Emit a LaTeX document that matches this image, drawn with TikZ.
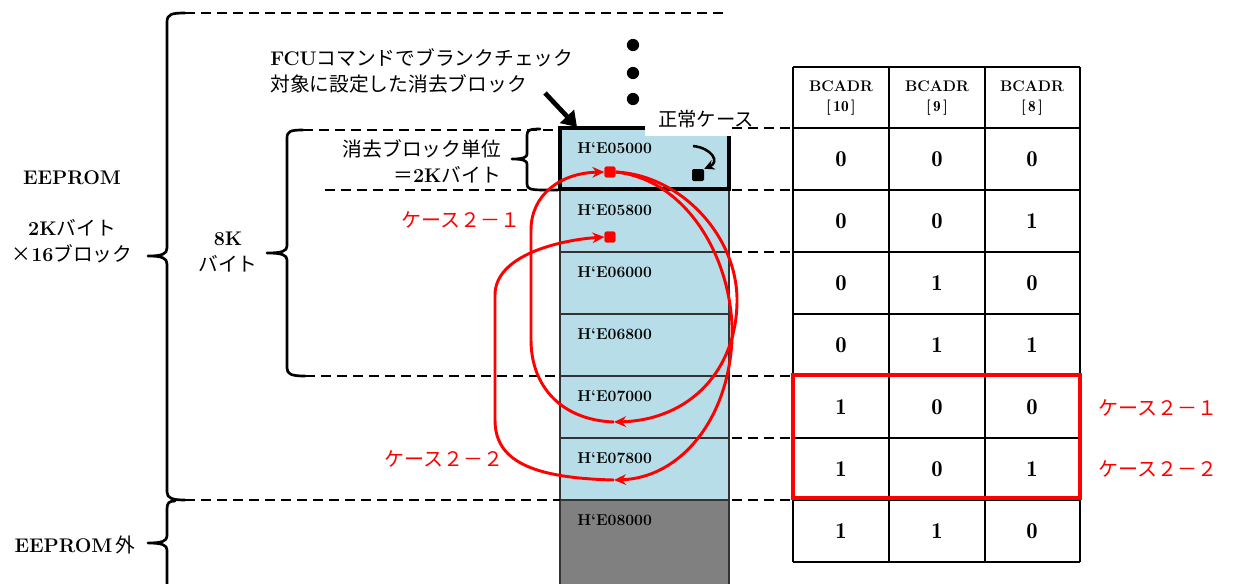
\documentclass[tikz,border=0pt]{standalone}
\usepackage{fontspec}
\newfontfamily\jp{Noto Sans CJK JP}
\newfontfamily\lmdemi{lmromandemi10-regular.otf}
\usetikzlibrary{arrows.meta}
\definecolor{memblue}{HTML}{B6DDE8}
\definecolor{memgray}{HTML}{808080}
\newcommand\J[1]{{\jp\mdseries #1}}
\begin{document}
\begin{tikzpicture}[x=0.75pt,y=-0.75pt,
  brc/.style={line width=2pt, line join=round, line cap=round},
  dsh/.style={line width=1.5pt, dash pattern=on 7.5pt off 4.5pt},
  tbl/.style={line width=1.1pt},
  thin/.style={line width=0.8pt, black!80},
  lbl/.style={inner sep=0pt, font=\fontsize{14.8}{19.5}\selectfont\bfseries},
  addr/.style={inner sep=0pt, anchor=west, font=\fontsize{11.8}{14}\selectfont\bfseries},
  val/.style={inner sep=0pt, font=\fontsize{17}{18}\selectfont\lmdemi},
  hdr/.style={inner sep=0pt, align=center, font=\fontsize{11.5}{15}\selectfont\bfseries},
  redlbl/.style={inner sep=0pt, text=red, font=\fontsize{15}{18}\selectfont\jp},
  redarr/.style={red, line width=2.2pt, -{Stealth[length=9pt,width=8pt]}},
  sq/.style={rectangle, inner sep=0pt, minimum size=8pt, rounded corners=1pt}
]
\useasboundingbox (0,0) rectangle (1237,583);

% memory column
\fill[memblue] (560,128) rectangle (729,500);
\fill[memgray] (560,500) rectangle (729,590);
\draw[thin] (560,190) -- (560,590) (729,190) -- (729,590);
\foreach \yy in {252,314,376,438,500} \draw[thin] (560,\yy) -- (729,\yy);
\draw[line width=2.6pt] (560,128) rectangle (729,189);
\fill[white] (645,98) rectangle (732,136);

% dashed guide lines
\draw[dsh] (185,13) -- (725,13);
\draw[dsh] (303,130) -- (556,130);
\draw[dsh] (325,190) -- (527,190);
\draw[dsh] (305,376) -- (560,376);
\draw[dsh] (185,500) -- (560,500);
\foreach \yy in {128,190,252,376,438,500} \draw[dsh] (732,\yy) -- (793,\yy);

% braces
\draw[brc] (185,13) .. controls (172,13) and (167,14) .. (167,22) -- (167,248)
  .. controls (167,254) and (162,256) .. (148,256)
  .. controls (162,256) and (167,258) .. (167,264) -- (167,492)
  .. controls (167,498) and (172,500) .. (185,500);
\draw[brc] (175,501) .. controls (169,501) and (167,503) .. (167,509) -- (167,536)
  .. controls (167,541) and (162,543) .. (148,543)
  .. controls (162,543) and (167,545) .. (167,550) -- (167,590);
\draw[brc] (303,130) .. controls (291,130) and (287,131) .. (287,138) -- (287,246)
  .. controls (287,251) and (282,253) .. (267,253)
  .. controls (282,253) and (287,255) .. (287,260) -- (287,368)
  .. controls (287,374) and (291,376) .. (305,376);
\draw[brc] (540,129) .. controls (530,129) and (527,130) .. (527,135) -- (527,154)
  .. controls (527,157) and (524,159) .. (512,159)
  .. controls (524,159) and (527,161) .. (527,164) -- (527,184)
  .. controls (527,189) and (530,190) .. (545,190) -- (558,190);

% table
\foreach \xx in {793,889,985,1080} \draw[tbl] (\xx,67) -- (\xx,562);
\foreach \yy in {67,128,190,252,314,376,438,500,562} \draw[tbl] (793,\yy) -- (1080,\yy);
\draw[red, line width=3pt] (793,375) rectangle (1080,498);
\node[hdr] (h10) at (841,98) {BCADR\\{\lmdemi[\,10\,]}};
\node[hdr] (h9) at (937,98) {BCADR\\{\lmdemi[\,9\,]}};
\node[hdr] (h8) at (1032,98) {BCADR\\{\lmdemi[\,8\,]}};
\foreach \yy/\a/\b/\c [count=\i] in {159/0/0/0,221/0/0/1,283/0/1/0,345/0/1/1,407/1/0/0,469/1/0/1,531/1/1/0} {
  \node[val] (va\i) at (841,\yy) {\a};
  \node[val] (vb\i) at (937,\yy) {\b};
  \node[val] (vc\i) at (1032,\yy) {\c};
}

% address labels
\foreach \yy/\a [count=\i] in {128/05000,190/05800,252/06000,314/06800,376/07000,438/07800,500/08000}
  \node[addr] (ad\i) at (577,\yy+20) {H\textquoteleft E\a};

% texts
\node[lbl] (eeprom) at (72,178) {EEPROM};
\node[lbl, align=center] (blk16) at (72,241) {2K\J{バイト}\\\J{×}16\J{ブロック}};
\node[lbl, align=center] (k8) at (228,252) {8K\\\J{バイト}};
\node[lbl, align=left, anchor=west] (fcu) at (270,71) {FCU\J{コマンドでブランクチェック}\\\J{対象に設定した消去ブロック}};
\node[lbl, align=right, anchor=east] (unit) at (501,161) {\J{消去ブロック単位}\\\J{＝}2K\J{バイト}};
\node[lbl] (outside) at (75,545) {EEPROM\,\J{外}};
\node[inner sep=0pt, font=\fontsize{14.5}{18}\selectfont\jp] (normal) at (706,119) {正常ケース};
\node[redlbl] (c21l) at (461,220) {ケース２－１};
\node[redlbl] (c22l) at (444,459) {ケース２－２};
\node[redlbl] (c21r) at (1158,408) {ケース２－１};
\node[redlbl] (c22r) at (1158,469) {ケース２－２};

% dots
\fill (633,45) circle[radius=4.6pt];
\fill (633,73) circle[radius=4.6pt];
\fill (633,99) circle[radius=4.6pt];

% FCU arrow
\coordinate (f0) at (545,93);
\coordinate (f1) at (577,127);
\draw[line width=3.5pt, -{Triangle[length=11pt,width=14pt]}] (f0) -- (f1);

% normal case arrow
\node[sq, fill=black, minimum size=9pt] (sqN) at (698,175) {};
\coordinate (c0) at (693,146);
\draw[line width=1.9pt, -{Stealth[length=7.5pt,width=7.5pt]}] (c0) .. controls (712,148) and (720,162) .. (sqN.north east);

% red arrows
\node[sq, fill=red] (sqA) at (610,172) {};
\node[sq, fill=red] (sqB) at (610,237) {};
\coordinate (t1) at (614,422);
\coordinate (t2) at (614,480);
\draw[redarr] (sqA.east) .. controls (680,175) and (737,235) .. (737,300) .. controls (737,370) and (690,420) .. (t1);
\draw[redarr] (sqA.east) .. controls (690,180) and (735,265) .. (732,340) .. controls (728,420) and (680,478) .. (t2);
\draw[redarr] (t1) .. controls (560,420) and (531,385) .. (531,340) -- (531,230) .. controls (531,195) and (560,173) .. (sqA.west);
\draw[redarr] (t2) .. controls (530,478) and (495,460) .. (495,420) -- (495,295) .. controls (495,255) and (560,240) .. (sqB.west);
\node[sq, fill=red] (sqA2) at (610,172) {};
\node[sq, fill=red] (sqB2) at (610,237) {};
\end{tikzpicture}
\end{document}
